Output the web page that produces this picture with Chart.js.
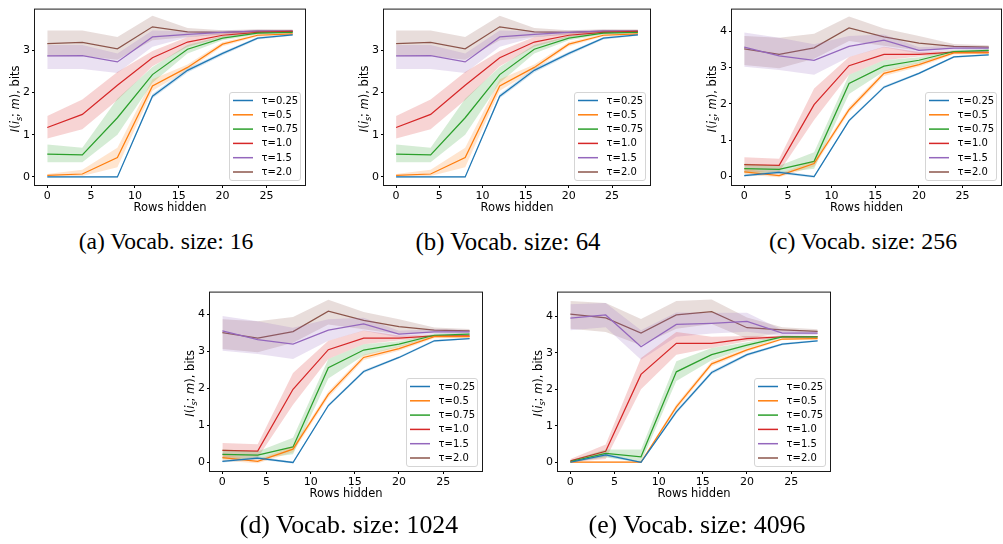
<!DOCTYPE html>
<html><head><meta charset="utf-8">
<script src="https://cdn.jsdelivr.net/npm/chart.js@4.4.1/dist/chart.umd.min.js"></script>
<style>
html,body{margin:0;padding:0;background:#fff}
body{width:1003px;height:544px;overflow:hidden;position:relative}
canvas{position:absolute}
.cap{position:absolute;font-family:'Liberation Serif';color:#000;white-space:nowrap;transform:translate(-50%,-50%);line-height:1}
</style></head><body>
<div id="root"></div>
<script>
// ---- shared categories ----
const rowsHidden = [0, 4, 8, 12, 16, 20, 24, 28];
const tauLabels = ['τ=0.25', 'τ=0.5', 'τ=0.75', 'τ=1.0', 'τ=1.5', 'τ=2.0'];
const xTicks = [0, 5, 10, 15, 20, 25];

// ---- Vocab size 16 (panel a) : mean, lower, upper per tau ----
const v16_mean = [
  [0.00, 0.00, 0.00, 1.91, 2.52, 2.92, 3.28, 3.36],
  [0.04, 0.07, 0.46, 2.15, 2.59, 3.14, 3.35, 3.38],
  [0.54, 0.52, 1.40, 2.42, 3.02, 3.28, 3.40, 3.42],
  [1.17, 1.48, 2.17, 2.82, 3.19, 3.35, 3.42, 3.44],
  [2.86, 2.87, 2.72, 3.31, 3.37, 3.42, 3.45, 3.45],
  [3.15, 3.18, 3.03, 3.55, 3.43, 3.42, 3.45, 3.45]
];
const v16_lo = [
  [-0.02, -0.02, -0.02, 1.86, 2.47, 2.88, 3.25, 3.34],
  [0.01, 0.02, 0.23, 2.04, 2.52, 3.09, 3.32, 3.36],
  [0.35, 0.35, 1.00, 2.23, 2.92, 3.23, 3.37, 3.40],
  [0.91, 1.13, 1.82, 2.62, 3.08, 3.30, 3.39, 3.42],
  [2.55, 2.55, 2.46, 3.08, 3.30, 3.38, 3.42, 3.43],
  [2.85, 2.86, 2.77, 3.23, 3.31, 3.36, 3.40, 3.41]
];
const v16_hi = [
  [0.02, 0.02, 0.02, 1.96, 2.57, 2.96, 3.31, 3.38],
  [0.07, 0.17, 0.69, 2.31, 2.66, 3.19, 3.38, 3.40],
  [0.77, 0.69, 1.85, 2.60, 3.12, 3.33, 3.43, 3.44],
  [1.44, 1.83, 2.48, 2.98, 3.31, 3.40, 3.45, 3.46],
  [3.12, 3.12, 2.92, 3.46, 3.44, 3.46, 3.48, 3.47],
  [3.46, 3.46, 3.31, 3.81, 3.52, 3.47, 3.49, 3.49]
];

// ---- Vocab size 64 (panel b): reads identical to panel a ----
const v64_mean = v16_mean;
const v64_lo = v16_lo;
const v64_hi = v16_hi;

// ---- Vocab size 256 (panel c) ----
const v256_mean = [
  [0.03, 0.12, 0.00, 1.54, 2.46, 2.84, 3.29, 3.35],
  [0.13, 0.03, 0.36, 1.84, 2.84, 3.08, 3.40, 3.40],
  [0.22, 0.20, 0.42, 2.56, 3.04, 3.20, 3.44, 3.47],
  [0.33, 0.31, 1.98, 3.05, 3.36, 3.36, 3.42, 3.42],
  [3.56, 3.32, 3.20, 3.58, 3.75, 3.47, 3.53, 3.53],
  [3.51, 3.36, 3.54, 4.09, 3.84, 3.67, 3.58, 3.56]
];
const v256_lo = [
  [0.00, 0.08, -0.03, 1.50, 2.42, 2.81, 3.26, 3.33],
  [0.05, -0.02, 0.28, 1.76, 2.77, 3.02, 3.36, 3.37],
  [0.09, 0.10, 0.22, 2.27, 2.89, 3.12, 3.40, 3.44],
  [0.13, 0.13, 1.56, 2.80, 3.20, 3.30, 3.39, 3.40],
  [3.02, 2.93, 2.80, 3.29, 3.56, 3.38, 3.47, 3.48],
  [3.07, 2.98, 3.24, 3.73, 3.60, 3.47, 3.52, 3.51]
];
const v256_hi = [
  [0.06, 0.16, 0.03, 1.58, 2.50, 2.87, 3.32, 3.37],
  [0.21, 0.08, 0.44, 1.92, 2.91, 3.14, 3.44, 3.43],
  [0.36, 0.30, 0.67, 2.80, 3.20, 3.28, 3.48, 3.50],
  [0.53, 0.49, 2.42, 3.29, 3.57, 3.43, 3.45, 3.44],
  [3.96, 3.82, 3.64, 3.87, 3.91, 3.56, 3.60, 3.58],
  [3.87, 3.82, 3.93, 4.40, 4.07, 3.87, 3.65, 3.61]
];

// ---- Vocab size 1024 (panel d): reads identical to panel c ----
const v1024_mean = v256_mean;
const v1024_lo = v256_lo;
const v1024_hi = v256_hi;

// ---- Vocab size 4096 (panel e) ----
const v4096_mean = [
  [0.00, 0.20, 0.00, 1.38, 2.46, 2.95, 3.24, 3.33],
  [0.00, 0.00, 0.00, 1.52, 2.70, 3.08, 3.38, 3.39],
  [0.02, 0.24, 0.15, 2.48, 2.95, 3.21, 3.44, 3.44],
  [0.04, 0.30, 2.41, 3.26, 3.26, 3.39, 3.44, 3.44],
  [3.95, 4.04, 3.17, 3.78, 3.81, 3.86, 3.54, 3.54],
  [4.06, 3.96, 3.54, 4.04, 4.13, 3.69, 3.63, 3.59]
];
const v4096_lo = [
  [-0.02, 0.16, -0.02, 1.33, 2.41, 2.91, 3.21, 3.31],
  [-0.02, -0.02, -0.02, 1.45, 2.63, 3.03, 3.35, 3.37],
  [0.00, 0.13, 0.00, 2.23, 2.80, 3.13, 3.41, 3.42],
  [0.00, 0.09, 2.00, 2.95, 3.13, 3.32, 3.41, 3.42],
  [3.62, 3.70, 2.81, 3.44, 3.53, 3.58, 3.46, 3.49],
  [3.66, 3.57, 3.21, 3.66, 3.79, 3.39, 3.56, 3.53]
];
const v4096_hi = [
  [0.02, 0.24, 0.02, 1.43, 2.51, 2.99, 3.27, 3.35],
  [0.02, 0.02, 0.02, 1.59, 2.77, 3.13, 3.41, 3.41],
  [0.05, 0.35, 0.35, 2.77, 3.13, 3.29, 3.47, 3.46],
  [0.09, 0.49, 2.86, 3.57, 3.44, 3.46, 3.47, 3.46],
  [4.33, 4.37, 3.62, 4.11, 4.10, 4.10, 3.63, 3.59],
  [4.42, 4.37, 3.93, 4.42, 4.46, 3.97, 3.70, 3.65]
];

const captions = ['(a) Vocab. size: 16', '(b) Vocab. size: 64', '(c) Vocab. size: 256', '(d) Vocab. size: 1024', '(e) Vocab. size: 4096'];
const yTicksSmall = [0, 1, 2, 3];
const yTicksLarge = [0, 1, 2, 3, 4];

// ---- styling ----
const colors = ['#1f77b4', '#ff7f0e', '#2ca02c', '#d62728', '#9467bd', '#8c564b'];
function rgba(hex, a) {
  const n = parseInt(hex.slice(1), 16);
  return `rgba(${(n >> 16) & 255},${(n >> 8) & 255},${n & 255},${a})`;
}

const panels = [
  { mean: v16_mean, lo: v16_lo, hi: v16_hi, L: 35, R: 305, T: 4, B: 185, ymin: -0.19, ymax: 3.98, yt: yTicksSmall, cap: captions[0], cx: 166, cy: 241.5, cs: 23.6 },
  { mean: v64_mean, lo: v64_lo, hi: v64_hi, L: 384, R: 650, T: 4, B: 185, ymin: -0.19, ymax: 3.98, yt: yTicksSmall, cap: captions[1], cx: 508, cy: 241.5, cs: 24.8 },
  { mean: v256_mean, lo: v256_lo, hi: v256_hi, L: 732, R: 1001, T: 4, B: 185, ymin: -0.23, ymax: 4.62, yt: yTicksLarge, cap: captions[2], cx: 863, cy: 241.5, cs: 23.8 },
  { mean: v1024_mean, lo: v1024_lo, hi: v1024_hi, L: 210, R: 482, T: 287, B: 471, ymin: -0.23, ymax: 4.62, yt: yTicksLarge, cap: captions[3], cx: 349, cy: 525, cs: 25.8 },
  { mean: v4096_mean, lo: v4096_lo, hi: v4096_hi, L: 558, R: 830, T: 287, B: 471, ymin: -0.24, ymax: 4.68, yt: yTicksLarge, cap: captions[4], cx: 697, cy: 525, cs: 25.8 }
];

const YW = 50, XH = 40, PT = 4, PR = 6;
const FONT = '"DejaVu Sans", Verdana, sans-serif';

const framePlugin = {
  id: 'frame',
  afterDatasetsDraw(chart) {
    const { ctx, chartArea: a } = chart;
    ctx.save();
    ctx.strokeStyle = '#1a1a1a';
    ctx.lineWidth = 1;
    ctx.strokeRect(a.left - 0.5, a.top + 0.5, a.right - a.left + 1, a.bottom - a.top);
    ctx.restore();
  }
};

const titlesPlugin = {
  id: 'titles',
  afterDraw(chart) {
    const { ctx, chartArea: a } = chart;
    ctx.save();
    ctx.fillStyle = '#000';
    // x title
    ctx.font = `11.5px ${FONT}`;
    ctx.textAlign = 'center';
    ctx.textBaseline = 'middle';
    ctx.fillText('Rows hidden', (a.left + a.right) / 2, a.bottom + 23);
    // y title with math styling
    const segs = [
      { t: 'I', f: `italic 11.5px ${FONT}`, dy: 0 },
      { t: '(', f: `11.5px ${FONT}`, dy: 0 },
      { t: 'i', f: `italic 11.5px ${FONT}`, dy: 0 },
      { t: 's', f: `italic 8px ${FONT}`, dy: 2.5 },
      { t: ';', f: `11.5px ${FONT}`, dy: 0 },
      { t: ' m', f: `italic 11.5px ${FONT}`, dy: 0 },
      { t: ')', f: `11.5px ${FONT}`, dy: 0 },
      { t: ', bits', f: `11.5px ${FONT}`, dy: 0 }
    ];
    let total = 0;
    segs.forEach(s => { ctx.font = s.f; s.w = ctx.measureText(s.t).width; total += s.w; });
    ctx.translate(a.left - 20, (a.top + a.bottom) / 2 + 2);
    ctx.rotate(-Math.PI / 2);
    ctx.textAlign = 'left';
    ctx.textBaseline = 'alphabetic';
    let x = -total / 2;
    segs.forEach(s => { ctx.font = s.f; ctx.fillText(s.t, x, 4 + s.dy); x += s.w; });
    ctx.restore();
  }
};

const legendPlugin = {
  id: 'innerLegend',
  afterDraw(chart) {
    const { ctx, chartArea: a } = chart;
    const w = 71, h = 88, gap = 5;
    const x0 = a.right - gap - w, y0 = a.bottom - gap - h;
    ctx.save();
    ctx.beginPath();
    if (ctx.roundRect) ctx.roundRect(x0 + 0.5, y0 + 0.5, w, h, 2.5); else ctx.rect(x0 + 0.5, y0 + 0.5, w, h);
    ctx.fillStyle = 'rgba(255,255,255,0.8)';
    ctx.fill();
    ctx.strokeStyle = '#d5d5d5';
    ctx.lineWidth = 1;
    ctx.stroke();
    ctx.font = `10px ${FONT}`;
    ctx.textBaseline = 'middle';
    ctx.textAlign = 'left';
    tauLabels.forEach((lab, i) => {
      const y = y0 + 8.5 + i * 14.3;
      ctx.strokeStyle = colors[i];
      ctx.lineWidth = 1.5;
      ctx.beginPath();
      ctx.moveTo(x0 + 4, y);
      ctx.lineTo(x0 + 24, y);
      ctx.stroke();
      ctx.fillStyle = '#000';
      ctx.fillText(lab, x0 + 32.5, y + 0.5);
    });
    ctx.restore();
  }
};

const root = document.getElementById('root');
panels.forEach(p => {
  const cv = document.createElement('canvas');
  const W = (p.R - p.L) + YW + PR;
  const H = (p.B - p.T) + PT + XH;
  cv.width = W; cv.height = H;
  cv.style.width = W + 'px'; cv.style.height = H + 'px';
  cv.style.left = (p.L - YW) + 'px';
  cv.style.top = (p.T - PT) + 'px';
  root.appendChild(cv);

  const datasets = [];
  tauLabels.forEach((lab, i) => {
    const pts = arr => rowsHidden.map((x, k) => ({ x, y: arr[k] }));
    datasets.push({ label: lab + ' lo', data: pts(p.lo[i]), borderColor: 'rgba(0,0,0,0)', borderWidth: 0, pointRadius: 0, fill: false, tension: 0 });
    datasets.push({ label: lab + ' hi', data: pts(p.hi[i]), borderColor: 'rgba(0,0,0,0)', borderWidth: 0, pointRadius: 0, fill: '-1', backgroundColor: rgba(colors[i], 0.2), tension: 0 });
    datasets.push({ label: lab, data: pts(p.mean[i]), borderColor: colors[i], borderWidth: 1.25, pointRadius: 0, fill: false, tension: 0 });
  });

  new Chart(cv, {
    type: 'line',
    data: { datasets },
    options: {
      responsive: false,
      animation: false,
      devicePixelRatio: 1,
      layout: { padding: { top: PT, right: PR, left: 0, bottom: 0 } },
      plugins: { legend: { display: false }, tooltip: { enabled: false } },
      scales: {
        x: {
          type: 'linear', min: -1.4, max: 29.4,
          afterBuildTicks: s => { s.ticks = xTicks.map(v => ({ value: v })); },
          afterFit: s => { s.height = XH; },
          ticks: { color: '#000', font: { family: FONT, size: 11 }, padding: 2, maxRotation: 0, autoSkip: false },
          grid: { display: true, drawOnChartArea: false, drawTicks: true, tickLength: 3, color: '#000' },
          border: { display: false }
        },
        y: {
          type: 'linear', min: p.ymin, max: p.ymax,
          afterBuildTicks: s => { s.ticks = p.yt.map(v => ({ value: v })); },
          afterFit: s => { s.width = YW; },
          ticks: { color: '#000', font: { family: FONT, size: 11 }, padding: 2, autoSkip: false },
          grid: { display: true, drawOnChartArea: false, drawTicks: true, tickLength: 3, color: '#000' },
          border: { display: false }
        }
      }
    },
    plugins: [framePlugin, titlesPlugin, legendPlugin]
  });

  const cap = document.createElement('div');
  cap.className = 'cap';
  cap.textContent = p.cap;
  cap.style.left = p.cx + 'px';
  cap.style.top = p.cy + 'px';
  cap.style.fontSize = p.cs + 'px';
  document.body.appendChild(cap);
});
</script>
</body></html>
